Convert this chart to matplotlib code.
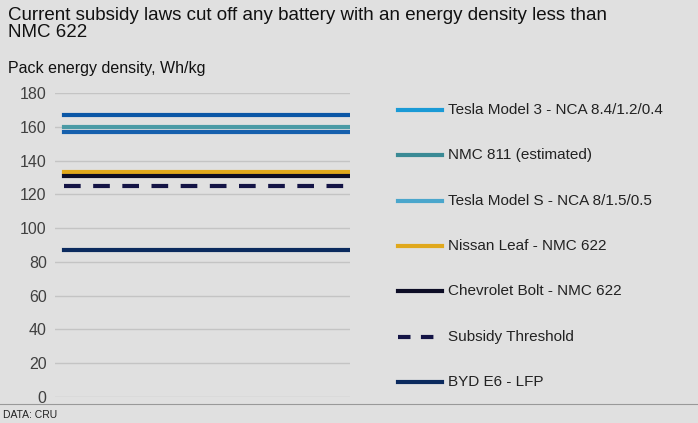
import matplotlib.pyplot as plt

plt.rcParams['font.family'] = ['Liberation Sans', 'DejaVu Sans']

names = ['Tesla Model 3 - NCA 8.4/1.2/0.4', 'NMC 811 (estimated)', 'Tesla Model S - NCA 8/1.5/0.5',
         'Nissan Leaf - NMC 622', 'Chevrolet Bolt - NMC 622', 'Subsidy Threshold', 'BYD E6 - LFP']
values = [167, 160, 157, 133, 131, 125, 87]
colors = ['#0b57a6', '#4a9aa5', '#1660ad', '#e0a81c', '#0d0d26', '#141446', '#0b2a5e']
legend_colors = ['#1a9ad6', '#3a8a95', '#4aa6cc', '#e0a81c', '#0d0d26', '#141446', '#0b2a5e']

bg = '#e0e0e0'
fig = plt.figure(figsize=(6.98, 4.23), dpi=100, facecolor=bg)
ax = fig.add_axes([55/698, 1-397/423, 295/698, 304/423], facecolor=bg)
for v, c, n in zip(values, colors, names):
    ls = (0, (4, 3)) if n == 'Subsidy Threshold' else '-'
    ax.plot([0, 1], [v, v], color=c, lw=3, ls=ls)
ax.set_xlim(-0.03, 1.0)
ax.set_ylim(0, 180)
ax.set_yticks(range(0, 181, 20))
ax.grid(axis='y', color='#c4c4c4', lw=1)
ax.set_axisbelow(True)
ax.tick_params(length=0, labelsize=11.5, colors='#404040', pad=6)
ax.set_xticks([])
for s in ax.spines.values():
    s.set_visible(False)

for i, (n, c) in enumerate(zip(names, legend_colors)):
    y = 1 - (110 + i * 45.3) / 423
    ls = (0, (3, 2.5)) if n == 'Subsidy Threshold' else '-'
    fig.add_artist(plt.Line2D([398/698, 442/698], [y, y], color=c, lw=3, ls=ls))
    fig.text(448/698, y, n, fontsize=11, va='center', color='#222222')

fig.text(8/698, 1-24/423, 'Current subsidy laws cut off any battery with an energy density less than\nNMC 622',
         fontsize=13.5, va='center', color='#111111', linespacing=1.0)
fig.text(8/698, 1-69/423, 'Pack energy density, Wh/kg', fontsize=11.5, va='center', color='#111111')
fig.text(3/698, 1-415/423, 'DATA: CRU', fontsize=7.5, va='center', color='#222222')
fig.add_artist(plt.Line2D([0, 1], [1-404/423, 1-404/423], color='#999999', lw=0.8))
fig.savefig('out.png', facecolor=bg)
